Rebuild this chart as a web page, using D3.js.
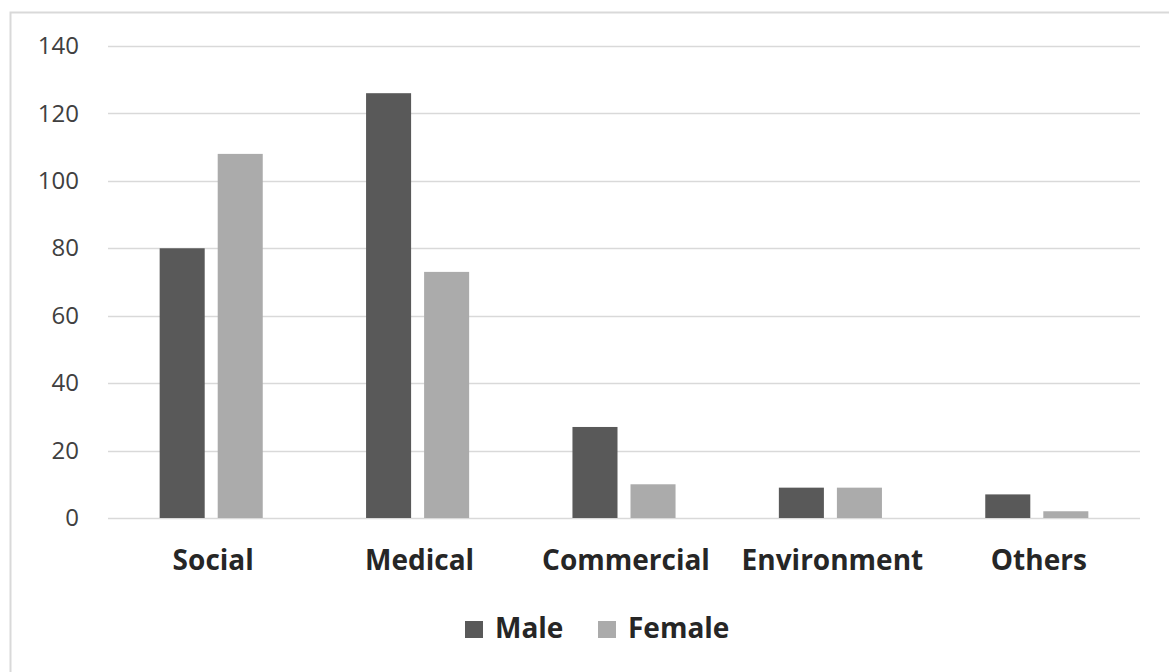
<!DOCTYPE html>
<html>
<head>
<meta charset="utf-8">
<script src="https://cdn.jsdelivr.net/npm/d3@7"></script>
<style>
  html, body { margin: 0; padding: 0; background: #fff; }
  svg { display: block; }
</style>
</head>
<body>
<svg id="chart" width="1169" height="672"></svg>
<script>
// Participants by project field and gender
const categories = ["Social", "Medical", "Commercial", "Environment", "Others"];
const seriesNames = ["Male", "Female"];
const maleValues = [80, 126, 27, 9, 7];
const femaleValues = [108, 73, 10, 9, 2];
const yTicks = [0, 20, 40, 60, 80, 100, 120, 140];

const colors = { Male: "#595959", Female: "#ababab" };
const rows = categories.map((c, i) => ({ category: c, Male: maleValues[i], Female: femaleValues[i] }));

const FONT = "'Open Sans', 'Noto Sans', sans-serif";
const svg = d3.select("#chart");
const W = 1169, H = 672;
const plot = { left: 108, right: 1140, top: 46, bottom: 518 };

// chart area border
svg.append("rect")
  .attr("x", 10.5).attr("y", 12.5)
  .attr("width", W + 10).attr("height", H + 10)
  .attr("fill", "#fff")
  .attr("stroke", "#d9d9d9").attr("stroke-width", 2);

const y = d3.scaleLinear().domain([0, 140]).range([plot.bottom, plot.top]);
const x0 = d3.scaleBand().domain(categories).range([plot.left, plot.right]).padding(0);
const x1 = d3.scaleBand().domain(seriesNames).range([0, x0.bandwidth()])
  .paddingInner(0.224).paddingOuter(0.89);

// gridlines
svg.append("g")
  .selectAll("line")
  .data(yTicks)
  .join("line")
  .attr("x1", plot.left).attr("x2", plot.right)
  .attr("y1", d => Math.round(y(d)) + 0.5).attr("y2", d => Math.round(y(d)) + 0.5)
  .attr("stroke", "#d9d9d9").attr("stroke-width", 1.5);

// y axis labels
const yAxis = d3.axisLeft(y).tickValues(yTicks).tickSize(0).tickPadding(0);
const gy = svg.append("g").attr("transform", "translate(79,0)").call(yAxis);
gy.select(".domain").remove();
gy.selectAll("text")
  .attr("font-family", FONT)
  .attr("font-size", 24)
  .attr("fill", "#404040");

// bars
const groups = svg.append("g")
  .selectAll("g")
  .data(rows)
  .join("g")
  .attr("transform", d => `translate(${x0(d.category)},0)`);

groups.selectAll("rect")
  .data(d => seriesNames.map(s => ({ series: s, value: d[s] })))
  .join("rect")
  .attr("x", d => x1(d.series))
  .attr("width", x1.bandwidth())
  .attr("y", d => y(d.value))
  .attr("height", d => y(0) - y(d.value))
  .attr("fill", d => colors[d.series]);

// category axis
const xAxis = d3.axisBottom(x0).tickSize(0).tickPadding(0);
const gx = svg.append("g").attr("transform", `translate(2,0)`).call(xAxis);
gx.select(".domain").remove();
gx.selectAll("text")
  .attr("y", 570)
  .attr("dy", null)
  .attr("font-family", FONT)
  .attr("font-size", 28)
  .attr("font-weight", "bold")
  .attr("fill", "#262626");

// legend
const legendItems = [
  { name: "Male", x: 465 },
  { name: "Female", x: 598 }
];
const li = svg.append("g").selectAll("g").data(legendItems).join("g")
  .attr("transform", d => `translate(${d.x},0)`);
li.append("rect")
  .attr("x", 0).attr("y", 621)
  .attr("width", 18).attr("height", 17)
  .attr("fill", d => colors[d.name]);
li.append("text")
  .attr("x", 30).attr("y", 638)
  .attr("font-family", FONT)
  .attr("font-size", 28)
  .attr("font-weight", "bold")
  .attr("fill", "#262626")
  .text(d => d.name);
</script>
</body>
</html>
